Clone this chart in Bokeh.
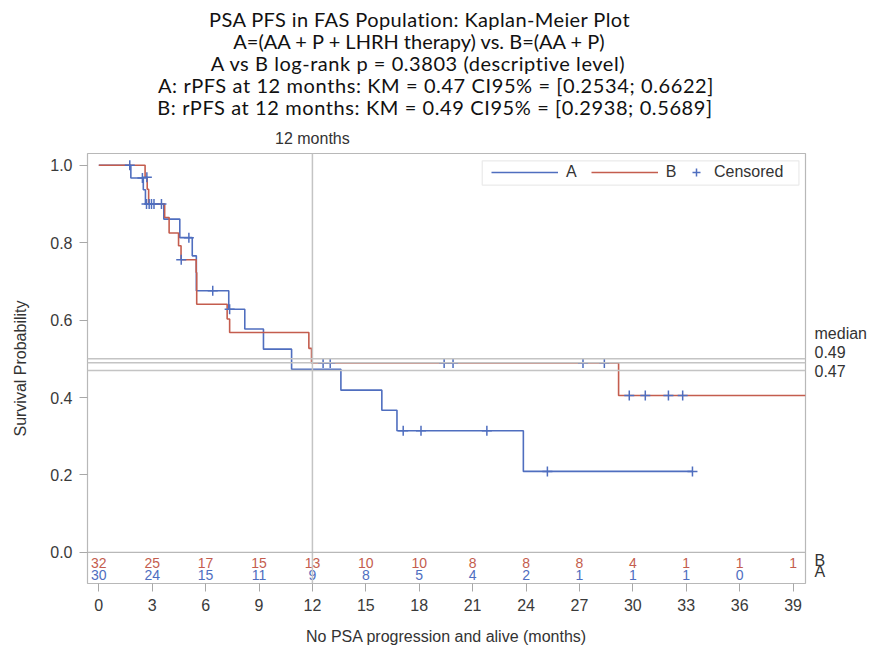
import numpy as np
from bokeh.plotting import figure
from bokeh.layouts import column
from bokeh.models import (Range1d, FixedTicker, PrintfTickFormatter, Span, LinearAxis, Div,
                          Legend, LegendItem, BoxAnnotation)
from bokeh.core.properties import value
from bokeh.embed import file_html
from bokeh.resources import INLINE

# ---------------- data ----------------
# Group A = (AA + P + LHRH therapy): KM step change points
a_times = [0, 1.8, 2.5, 2.62, 3.65, 4.55, 5.25, 5.48, 7.3, 8.2, 9.25, 10.83, 13.6, 15.9, 16.75, 23.85]
a_surv = [1.0, 0.967, 0.937, 0.900, 0.861, 0.813, 0.766, 0.676, 0.628, 0.577, 0.525, 0.473, 0.419, 0.367, 0.314, 0.209]
a_end = 33.35
a_censor = [1.74, 2.45, 2.68, 2.96, 3.52, 5.06, 6.4, 7.35, 17.1, 18.1, 21.8, 25.2, 33.35]

# Group B = (AA + P)
b_times = [0, 2.6, 2.72, 2.8, 3.7, 3.95, 4.48, 4.62, 5.47, 5.5, 7.21, 7.35, 11.8, 11.95, 29.2]
b_surv = [1.0, 0.969, 0.938, 0.900, 0.865, 0.825, 0.792, 0.756, 0.723, 0.641, 0.603, 0.568, 0.527, 0.489, 0.405]
b_end = 39.7
b_censor = [2.7, 2.83, 3.10, 4.63, 12.6, 13.0, 19.4, 19.9, 27.2, 28.4, 29.8, 30.7, 32.0, 32.8]

# numbers at risk
risk_times = [0, 3, 6, 9, 12, 15, 18, 21, 24, 27, 30, 33, 36, 39]
b_risk = [32, 25, 17, 15, 13, 10, 10, 8, 8, 8, 4, 1, 1, 1]
a_risk = [30, 24, 15, 11, 9, 8, 5, 4, 2, 1, 1, 1, 0]

median_refs = [0.5, 0.49, 0.47]
median_labels = ["median", "0.49", "0.47"]
landmark = 12
landmark_label = "12 months"

titles = [
    "PSA PFS in FAS Population: Kaplan-Meier Plot",
    "A=(AA + P + LHRH therapy) vs. B=(AA + P)",
    "A vs B log-rank p = 0.3803 (descriptive level)",
    "A: rPFS at 12 months: KM = 0.47 CI95% = [0.2534; 0.6622]",
    "B: rPFS at 12 months: KM = 0.49 CI95% = [0.2938; 0.5689]",
]

BLUE = "#4f6ebf"
RED = "#c45d4e"
GRAY = "#c4c4c4"
TXT = "#333333"
FONT = "Liberation Sans"

HEAD_H = 124          # height of the title block (px)


def surv_at(times, surv, t):
    idx = np.searchsorted(np.asarray(times), np.asarray(t), side="right") - 1
    return list(np.asarray(surv)[idx])


# ---------------- title block ----------------
title_cx = [419.5, 419, 418, 436, 435]
title_top = [9.4, 31.1, 52.7, 75.2, 96.9]
title_ls = [0.4, 0.0, 0.55, 0.6, 0.6]
lines_html = "".join(
    f'<div style="position:absolute;left:{cx}px;top:{tp}px;transform:translateX(-50%);'
    f'letter-spacing:{ls}px;white-space:nowrap;height:21px;">{t}</div>'
    for t, cx, tp, ls in zip(titles, title_cx, title_top, title_ls))
head = Div(text=(f'<div style="position:relative;width:874px;height:{HEAD_H}px;'
                 f'font-family:Lato;font-size:20px;line-height:21px;color:#111111;">'
                 f'{lines_html}</div>'),
           width=874, height=HEAD_H, margin=0)

# ---------------- plot ----------------
p = figure(width=874, height=649 - HEAD_H, output_backend="svg", toolbar_location=None,
           x_range=Range1d(-0.635, 39.7), y_range=Range1d(-0.0806, 1.0305),
           min_border_left=87, min_border_right=69, min_border_top=153 - HEAD_H,
           min_border_bottom=66)
p.title.visible = False
p.grid.visible = False
p.outline_line_color = "#b8b8b8"
p.outline_line_width = 1.2

# KM curves
rA = p.step(x=a_times + [a_end], y=a_surv + [a_surv[-1]], mode="after",
            line_color=BLUE, line_width=1.6)
rB = p.step(x=b_times + [b_end], y=b_surv + [b_surv[-1]], mode="after",
            line_color=RED, line_width=1.6)

# censored marks
cA = p.scatter(x=a_censor, y=surv_at(a_times, a_surv, a_censor), marker="cross",
               size=10, line_color=BLUE, line_width=1.5)
cB = p.scatter(x=b_censor, y=surv_at(b_times, b_surv, b_censor), marker="cross",
               size=10, line_color=BLUE, line_width=1.5)

# reference lines
p.add_layout(Span(location=landmark, dimension="height", line_color=GRAY, line_width=1.5))
for m in median_refs:
    p.add_layout(Span(location=m, dimension="width", line_color=GRAY, line_width=1.5))
p.add_layout(Span(location=0, dimension="width", line_color="#b8b8b8", line_width=1.2))

# at-risk table
p.text(x=risk_times, y=[-0.027] * len(risk_times), text=[str(v) for v in b_risk],
       text_color=RED, text_font=value(FONT), text_font_size="14px",
       text_align="center", text_baseline="middle")
p.text(x=risk_times[:len(a_risk)], y=[-0.058] * len(a_risk), text=[str(v) for v in a_risk],
       text_color=BLUE, text_font=value(FONT), text_font_size="14px",
       text_align="center", text_baseline="middle")

# axes
for ax in (p.xaxis[0], p.yaxis[0]):
    ax.axis_line_color = None
    ax.major_tick_line_color = "#a8a8a8"
    ax.major_tick_out = 8
    ax.major_tick_in = 0
    ax.minor_tick_line_color = None
    ax.major_label_text_font = FONT
    ax.major_label_text_font_size = "16px"
    ax.major_label_text_color = "#3a3a3a"
    ax.axis_label_text_font = FONT
    ax.axis_label_text_font_size = "16px"
    ax.axis_label_text_font_style = "normal"
    ax.axis_label_text_color = TXT

p.xaxis.ticker = FixedTicker(ticks=risk_times)
p.xaxis.major_label_standoff = 7
p.xaxis.axis_label = "No PSA progression and alive (months)"
p.xaxis.axis_label_standoff = 14
p.yaxis.ticker = FixedTicker(ticks=[0, 0.2, 0.4, 0.6, 0.8, 1.0])
p.yaxis.formatter = PrintfTickFormatter(format="%.1f")
p.yaxis.major_label_standoff = 7
p.yaxis.axis_label = "Survival Probability"
p.yaxis.axis_label_standoff = 18

# right-hand labels: median reference values and at-risk row names
right_ticks = [0.5646, 0.5163, 0.4664, -0.022, -0.049]
right_text = median_labels + ["B", "A"]
rax = LinearAxis(ticker=FixedTicker(ticks=right_ticks),
                 major_label_overrides=dict(zip(right_ticks, right_text)),
                 axis_line_color=None, major_tick_line_color=None, minor_tick_line_color=None,
                 major_tick_out=0, major_tick_in=0, major_label_standoff=9,
                 major_label_text_font=FONT, major_label_text_font_size="16px",
                 major_label_text_color=TXT)
p.add_layout(rax, "right")

# top label for the landmark line
tax = LinearAxis(ticker=FixedTicker(ticks=[landmark]),
                 major_label_overrides={landmark: landmark_label},
                 axis_line_color=None, major_tick_line_color=None, minor_tick_line_color=None,
                 major_tick_out=0, major_tick_in=0, major_label_standoff=7,
                 major_label_text_font=FONT, major_label_text_font_size="16px",
                 major_label_text_color=TXT)
p.add_layout(tax, "above")

# legend
leg1 = Legend(items=[LegendItem(label="A", renderers=[rA]), LegendItem(label="B", renderers=[rB])],
              location=(399, 396), orientation="horizontal", glyph_width=67, glyph_height=20,
              label_height=20, label_width=10, label_standoff=8, spacing=14, padding=5, margin=0,
              border_line_alpha=0, background_fill_alpha=0,
              label_text_font=FONT, label_text_font_size="16px", label_text_color=TXT)
leg2 = Legend(items=[LegendItem(label="Censored", renderers=[cA])],
              location=(594, 396), orientation="horizontal", glyph_width=20, glyph_height=20,
              label_height=20, label_standoff=8, spacing=0, padding=5, margin=0,
              border_line_alpha=0, background_fill_alpha=0,
              label_text_font=FONT, label_text_font_size="16px", label_text_color=TXT)
p.add_layout(leg1, "center")
p.add_layout(leg2, "center")
p.add_layout(BoxAnnotation(left=21.54, right=39.33, bottom=0.9488, top=1.0116,
                           fill_alpha=0, line_color="#b8b8b8", line_width=1.2))

page = column(head, p, spacing=0)
open("out.html", "w").write(file_html(page, INLINE))
